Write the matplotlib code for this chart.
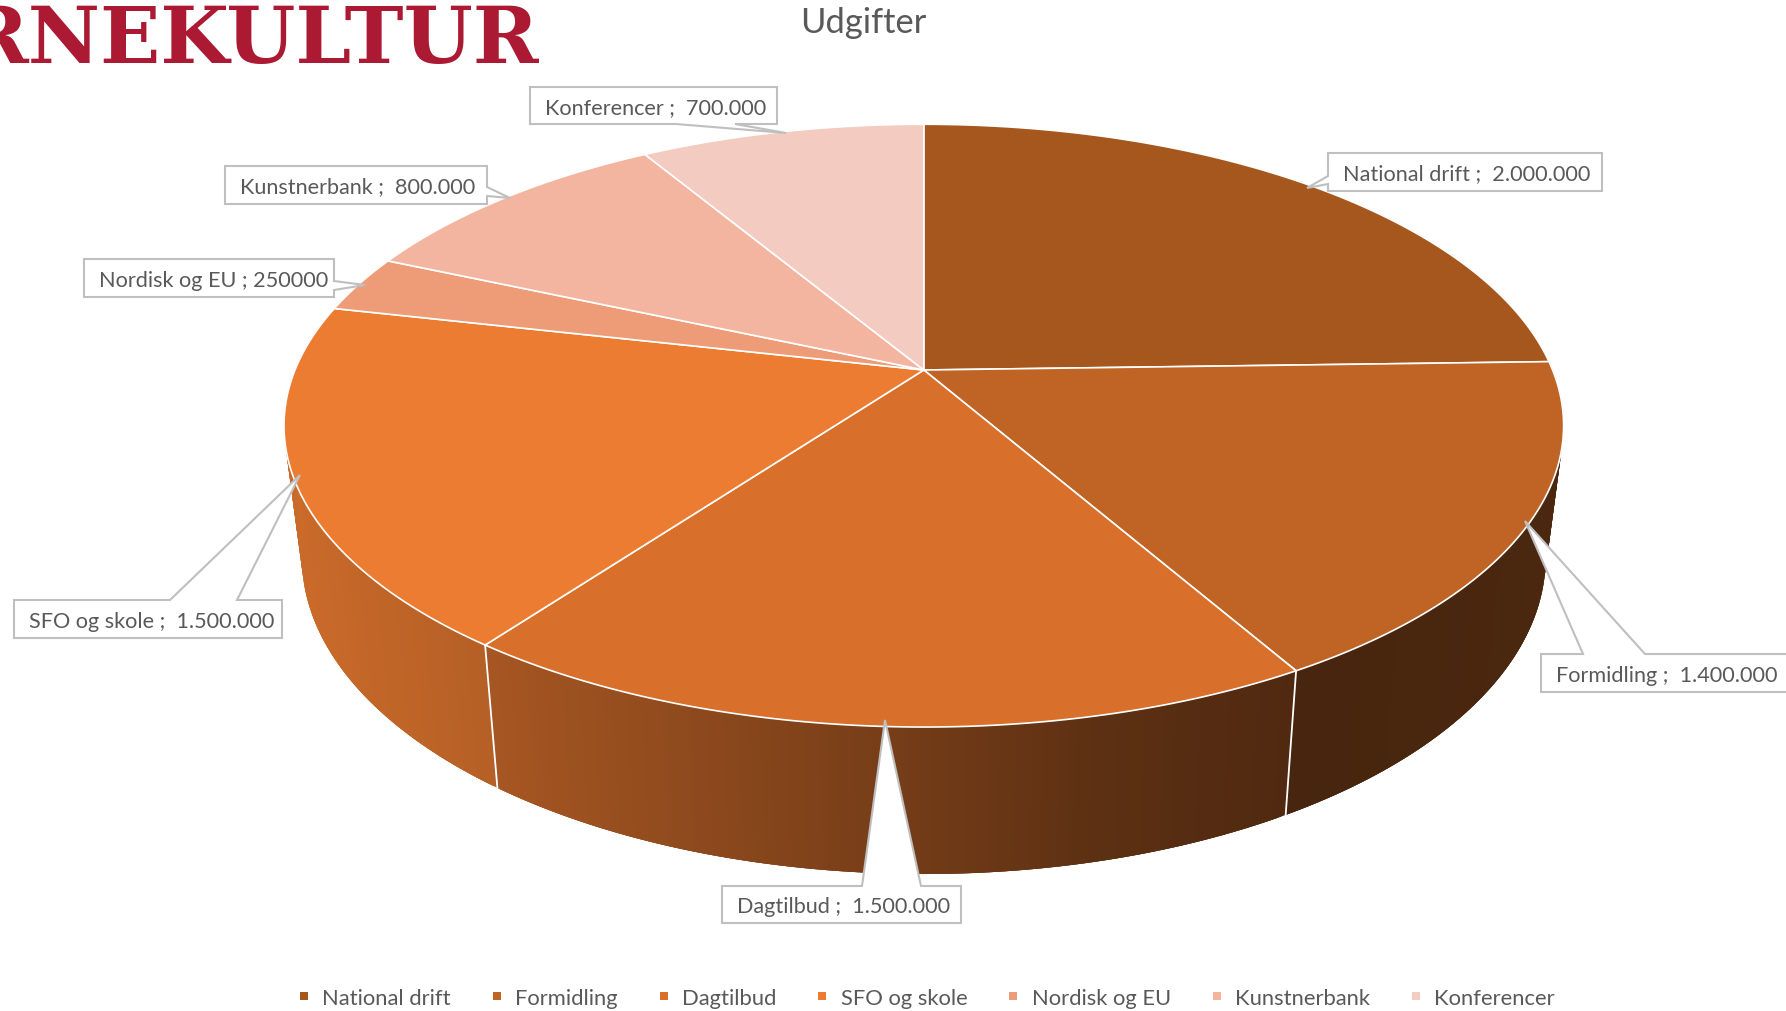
import numpy as np
import matplotlib
matplotlib.use('Agg')
import matplotlib.pyplot as plt
from matplotlib.collections import PolyCollection
from matplotlib.lines import Line2D
from matplotlib.patches import Polygon

plt.rcParams['font.family'] = ['Lato', 'DejaVu Sans']

# Data
categories = ['National drift', 'Formidling', 'Dagtilbud', 'SFO og skole',
              'Nordisk og EU', 'Kunstnerbank', 'Konferencer']
values = [2000000, 1400000, 1500000, 1500000, 250000, 800000, 700000]
value_labels = ['2.000.000', '1.400.000', '1.500.000', '1.500.000',
                '250000', '800.000', '700.000']
colors = ['#A5571D', '#C06426', '#D8702C', '#EB7C31', '#EE9C78', '#F3B5A0', '#F3CBC0']

TEXT = '#595959'
BORDER = '#BFBFBF'

# Perspective of the disc, in pixels of the figure
CX, CY = 923.8, 371.0
A, B, K = 628.8, 291.1, 0.18467
# Lower rim of the wall
LOW_X, LOW_Y = 0.972, 1.05
RIM_Y, RIM_Y_LOW = 728.0, 875.0

# box (l, t, r, b), side of the pointer, notch start and end, tip
callouts = [
    ((1328, 154, 1602, 192), 'left', (177, 185), (1307, 189)),
    ((1541, 655, 1800, 693), 'top', (1583, 1645), (1525, 522)),
    ((722, 887, 961, 924), 'top', (862, 921), (885, 721)),
    ((14, 601, 282, 639), 'top', (170, 237), (300, 476)),
    ((84, 260, 334, 298), 'right', (282, 291), (365, 286)),
    ((225, 167, 487, 205), 'right', (188, 197), (510, 199)),
    ((530, 88, 777, 125), 'bottom', (676, 735), (786, 134)),
]
label_size = 15.6
legend_size = 15.8


def disc(theta):
    # theta runs clockwise from 12 o'clock
    x, y = np.sin(theta), np.cos(theta)
    w = 1 + K * y
    return CX + A * x / w, CY - B * y / w


def lower(px, py):
    return CX + LOW_X * (px - CX), RIM_Y_LOW + LOW_Y * (py - RIM_Y)


def wall_shade(px):
    return np.interp(px, [285, 484, 885, 1100, 1290, 1570],
                     [0.86, 0.77, 0.55, 0.43, 0.37, 0.39])


def callout_shape(box, side, notch, tip):
    l, t, r, b = box
    if side == 'left':
        return [(l, t), (r, t), (r, b), (l, b), (l, notch[1]), tip, (l, notch[0])]
    if side == 'right':
        return [(l, t), (r, t), (r, notch[0]), tip, (r, notch[1]), (r, b), (l, b)]
    if side == 'top':
        return [(l, t), (notch[0], t), tip, (notch[1], t), (r, t), (r, b), (l, b)]
    return [(l, t), (r, t), (r, b), (notch[1], b), tip, (notch[0], b), (l, b)]


fig = plt.figure(figsize=(17.86, 10.12), dpi=100)
ax = fig.add_axes([0, 0, 1, 1])
ax.set_xlim(0, 1786)
ax.set_ylim(1012, 0)
ax.axis('off')

edges = np.cumsum([0] + values) / sum(values) * 2 * np.pi

# Side walls first, the top covers whatever is behind it
for i, col in enumerate(colors):
    th = np.linspace(edges[i], edges[i + 1], 160)
    tx, ty = disc(th)
    bx, by = lower(tx, ty)
    quads = []
    shades = []
    # each quad reaches over the next one, that hides the seams
    for j in range(len(th) - 1):
        k = min(j + 3, len(th) - 1)
        quads.append([(tx[j], ty[j]), (tx[k], ty[k]), (bx[k], by[k]), (bx[j], by[j])])
        s = wall_shade((tx[j] + tx[j + 1]) / 2)
        shades.append(np.array(matplotlib.colors.to_rgb(col)) * s)
    ax.add_collection(PolyCollection(quads, facecolors=shades, edgecolors='none',
                                     linewidths=0, zorder=1))

# White seams on the wall, only where it is visible
for e in edges:
    tx, ty = disc(e)
    if np.cos(e) < 0:
        bx, by = lower(tx, ty)
        ax.plot([tx, bx], [ty, by], color='white', lw=1.3, zorder=2)

# Top of the pie
for i, col in enumerate(colors):
    th = np.linspace(edges[i], edges[i + 1], 200)
    tx, ty = disc(th)
    pts = [(CX, CY)] + list(zip(tx, ty))
    ax.add_patch(Polygon(pts, closed=True, facecolor=col, edgecolor='white',
                         lw=1.2, joinstyle='round', zorder=3))

# Data labels
for i, (box, side, notch, tip) in enumerate(callouts):
    ax.add_patch(Polygon(callout_shape(box, side, notch, tip), closed=True,
                         facecolor='white', edgecolor=BORDER, lw=1.5,
                         joinstyle='miter', zorder=4, clip_on=True))
    sep = ' ; ' if value_labels[i] == '250000' else ' ;  '
    ax.text(box[0] + 15, (box[1] + box[3]) / 2 + 1.5, categories[i] + sep + value_labels[i],
            color=TEXT, fontsize=label_size, ha='left', va='center', zorder=5)

# Logo, cut off by the edge of the picture
ax.text(539, 63, 'RNEKULTUR', family=['DejaVu Serif'], weight='bold',
        fontsize=57, color='#AB1A32', ha='right', va='baseline', zorder=5)

ax.text(863, 23, 'Udgifter', color=TEXT, fontsize=24.8, ha='center', va='center', zorder=5)

handles = [Line2D([], [], linestyle='none', marker='s', markersize=6.2, color=c,
                  markeredgewidth=0) for c in colors]
fig.legend(handles, categories, loc='center', bbox_to_anchor=(927 / 1786, 1 - 999 / 1012),
           ncol=7, frameon=False, fontsize=legend_size, labelcolor=TEXT,
           handlelength=0.45, handletextpad=0.6, columnspacing=1.88,
           borderpad=0, borderaxespad=0)

fig.savefig('out.png', dpi=100)
plt.close(fig)
